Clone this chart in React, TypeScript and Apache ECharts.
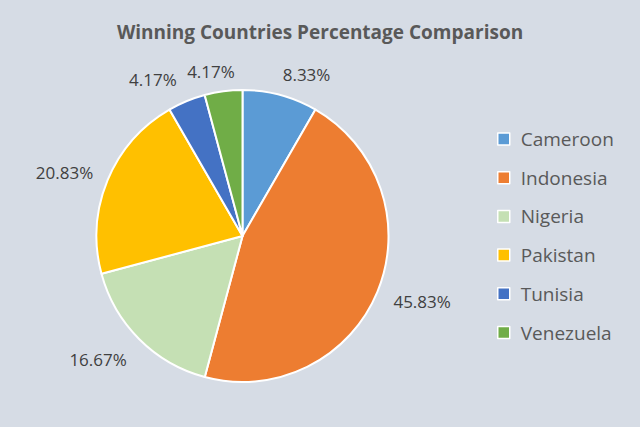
import React, { useEffect, useRef } from "react";
import * as echarts from "echarts";

const categories = ["Cameroon", "Indonesia", "Nigeria", "Pakistan", "Tunisia", "Venezuela"];
const values = [8.33, 45.83, 16.67, 20.83, 4.17, 4.17];
const colors = ["#5B9BD5", "#ED7D31", "#C5E0B4", "#FFC000", "#4472C4", "#70AD47"];
const titleText = "Winning Countries Percentage Comparison";

// label placement styling (radial length, horizontal adjustment) per slice
const labelRadial = [21, 26, 29, 21, 23, 20];
const labelHoriz = [-8, -13, -13, -10, -4, -19];

export default function App() {
  const ref = useRef<HTMLDivElement>(null);
  useEffect(() => {
    if (!ref.current) return;
    const chart = echarts.init(ref.current, undefined, { renderer: "svg" });
    chart.setOption({
      animation: false,
      backgroundColor: "#D6DCE5",
      title: {
        text: titleText,
        left: "center",
        top: 17,
        textStyle: { fontFamily: "Open Sans", fontWeight: "bold", fontSize: 19, color: "#595959" },
      },
      legend: {
        orient: "vertical",
        left: 497,
        top: 129.5,
        padding: 0,
        itemWidth: 12,
        itemHeight: 12,
        itemGap: 19.7,
        icon: "rect",
        itemStyle: { borderColor: "#ffffff", borderWidth: 1.5 },
        textStyle: { fontFamily: "Open Sans", fontSize: 19, color: "#595959", padding: [0, 0, 0, 6] },
        data: categories,
      },
      series: [
        {
          type: "pie",
          center: [242.5, 236],
          radius: 146,
          startAngle: 90,
          clockwise: true,
          avoidLabelOverlap: false,
          labelLayout: { hideOverlap: false },
          itemStyle: { borderColor: "#ffffff", borderWidth: 2 },
          label: {
            show: true,
            position: "outside",
            formatter: (p: any) => values[p.dataIndex].toFixed(2) + "%",
            fontFamily: "Open Sans",
            fontSize: 17,
            color: "#404040",
          },
          labelLine: { show: false },
          data: categories.map((c, i) => ({
            name: c,
            value: values[i],
            itemStyle: { color: colors[i] },
            labelLine: { show: false, length: labelRadial[i], length2: labelHoriz[i] },
          })),
        },
      ],
    });
    return () => chart.dispose();
  }, []);
  return <div ref={ref} style={{ position: "absolute", left: 0, top: 0, width: 640, height: 427 }} />;
}
